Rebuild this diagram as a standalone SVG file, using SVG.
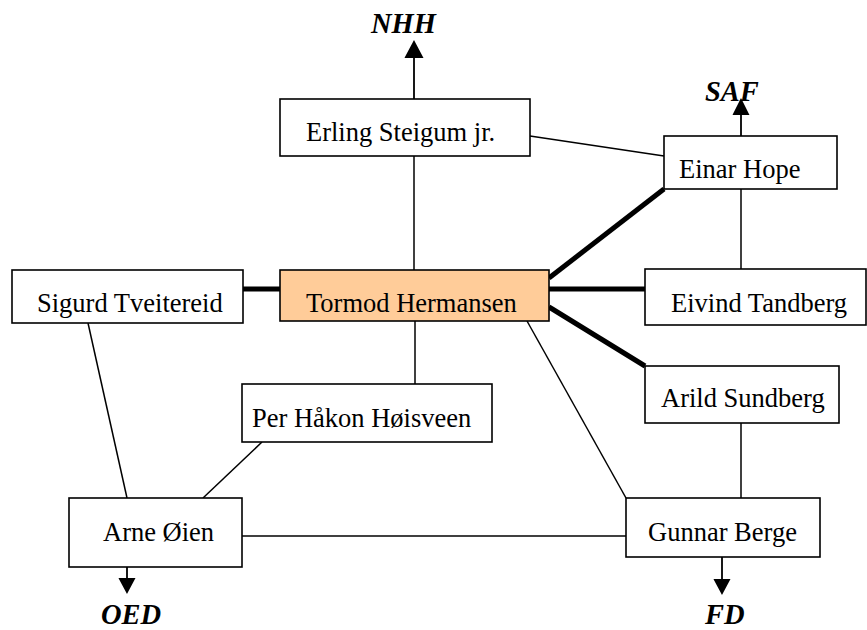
<svg xmlns="http://www.w3.org/2000/svg" width="867" height="630" viewBox="0 0 867 630">
<style>
.box{fill:#fff;stroke:#000;stroke-width:1.6}
.hl{fill:#FFCC99}
.t{font-family:"Liberation Serif","Times New Roman",serif;font-size:26.5px;fill:#000}
.lab{font-family:"Liberation Serif","Times New Roman",serif;font-size:28.5px;font-weight:bold;font-style:italic;fill:#000}
.thin{stroke:#000;stroke-width:1.5;fill:none}
.thick{stroke:#000;stroke-width:5;fill:none}
.ar{stroke:#000;stroke-width:1.8;fill:#000}
</style>
<g id="connectors">
<line class="thin" x1="414" y1="156" x2="414" y2="270"/>
<line class="thin" x1="530" y1="136" x2="664" y2="156"/>
<line class="thin" x1="741" y1="189" x2="741" y2="269"/>
<line class="thick" x1="243" y1="289" x2="280" y2="289"/>
<line class="thick" x1="549" y1="289" x2="645" y2="289"/>
<line class="thick" x1="549" y1="278" x2="664" y2="189"/>
<line class="thick" x1="549" y1="307" x2="645" y2="366"/>
<line class="thin" x1="741" y1="423" x2="741" y2="498"/>
<line class="thin" x1="527" y1="321" x2="626" y2="498"/>
<line class="thin" x1="415" y1="321" x2="415" y2="384"/>
<line class="thin" x1="262" y1="442" x2="203" y2="498"/>
<line class="thin" x1="88" y1="323" x2="127" y2="498"/>
<line class="thin" x1="242" y1="536" x2="626" y2="536"/>
<path class="ar" d="M414,99 V57 M406,57 L414,42 L422,57 Z"/>
<path class="ar" d="M741,136 V114 M734,114 L741,100 L748,114 Z"/>
<path class="ar" d="M127,554 V579 M120,579 L127,592 L134,579 Z"/>
<path class="ar" d="M722,554 V580 M715,580 L722,593 L729,580 Z"/>
</g>
<g id="lab-nhh"><text class="lab" x="371" y="33">NHH</text></g>
<g id="lab-saf"><text class="lab" x="705" y="101">SAF</text></g>
<g id="lab-oed"><text class="lab" x="101" y="624">OED</text></g>
<g id="lab-fd"><text class="lab" x="705" y="624">FD</text></g>
<g id="erling"><rect class="box" x="280" y="99" width="250" height="57"/><text class="t" x="306" y="141">Erling Steigum jr.</text></g>
<g id="einar"><rect class="box" x="664" y="136" width="173" height="53"/><text class="t" x="679" y="178">Einar Hope</text></g>
<g id="sigurd"><rect class="box" x="12" y="270" width="231" height="53"/><text class="t" x="37" y="312">Sigurd Tveitereid</text></g>
<g id="tormod"><rect class="box hl" x="280" y="270" width="269" height="51"/><text class="t" x="306" y="312">Tormod Hermansen</text></g>
<g id="eivind"><rect class="box" x="645" y="269" width="221" height="56"/><text class="t" x="671" y="312">Eivind Tandberg</text></g>
<g id="arild"><rect class="box" x="645" y="366" width="194" height="57"/><text class="t" x="661" y="407">Arild Sundberg</text></g>
<g id="per"><rect class="box" x="242" y="384" width="250" height="58"/><text class="t" x="252" y="427">Per Håkon Høisveen</text></g>
<g id="arne"><rect class="box" x="69" y="498" width="173" height="69"/><text class="t" x="103" y="541">Arne Øien</text></g>
<g id="gunnar"><rect class="box" x="626" y="498" width="194" height="59"/><text class="t" x="648" y="541">Gunnar Berge</text></g>
</svg>
